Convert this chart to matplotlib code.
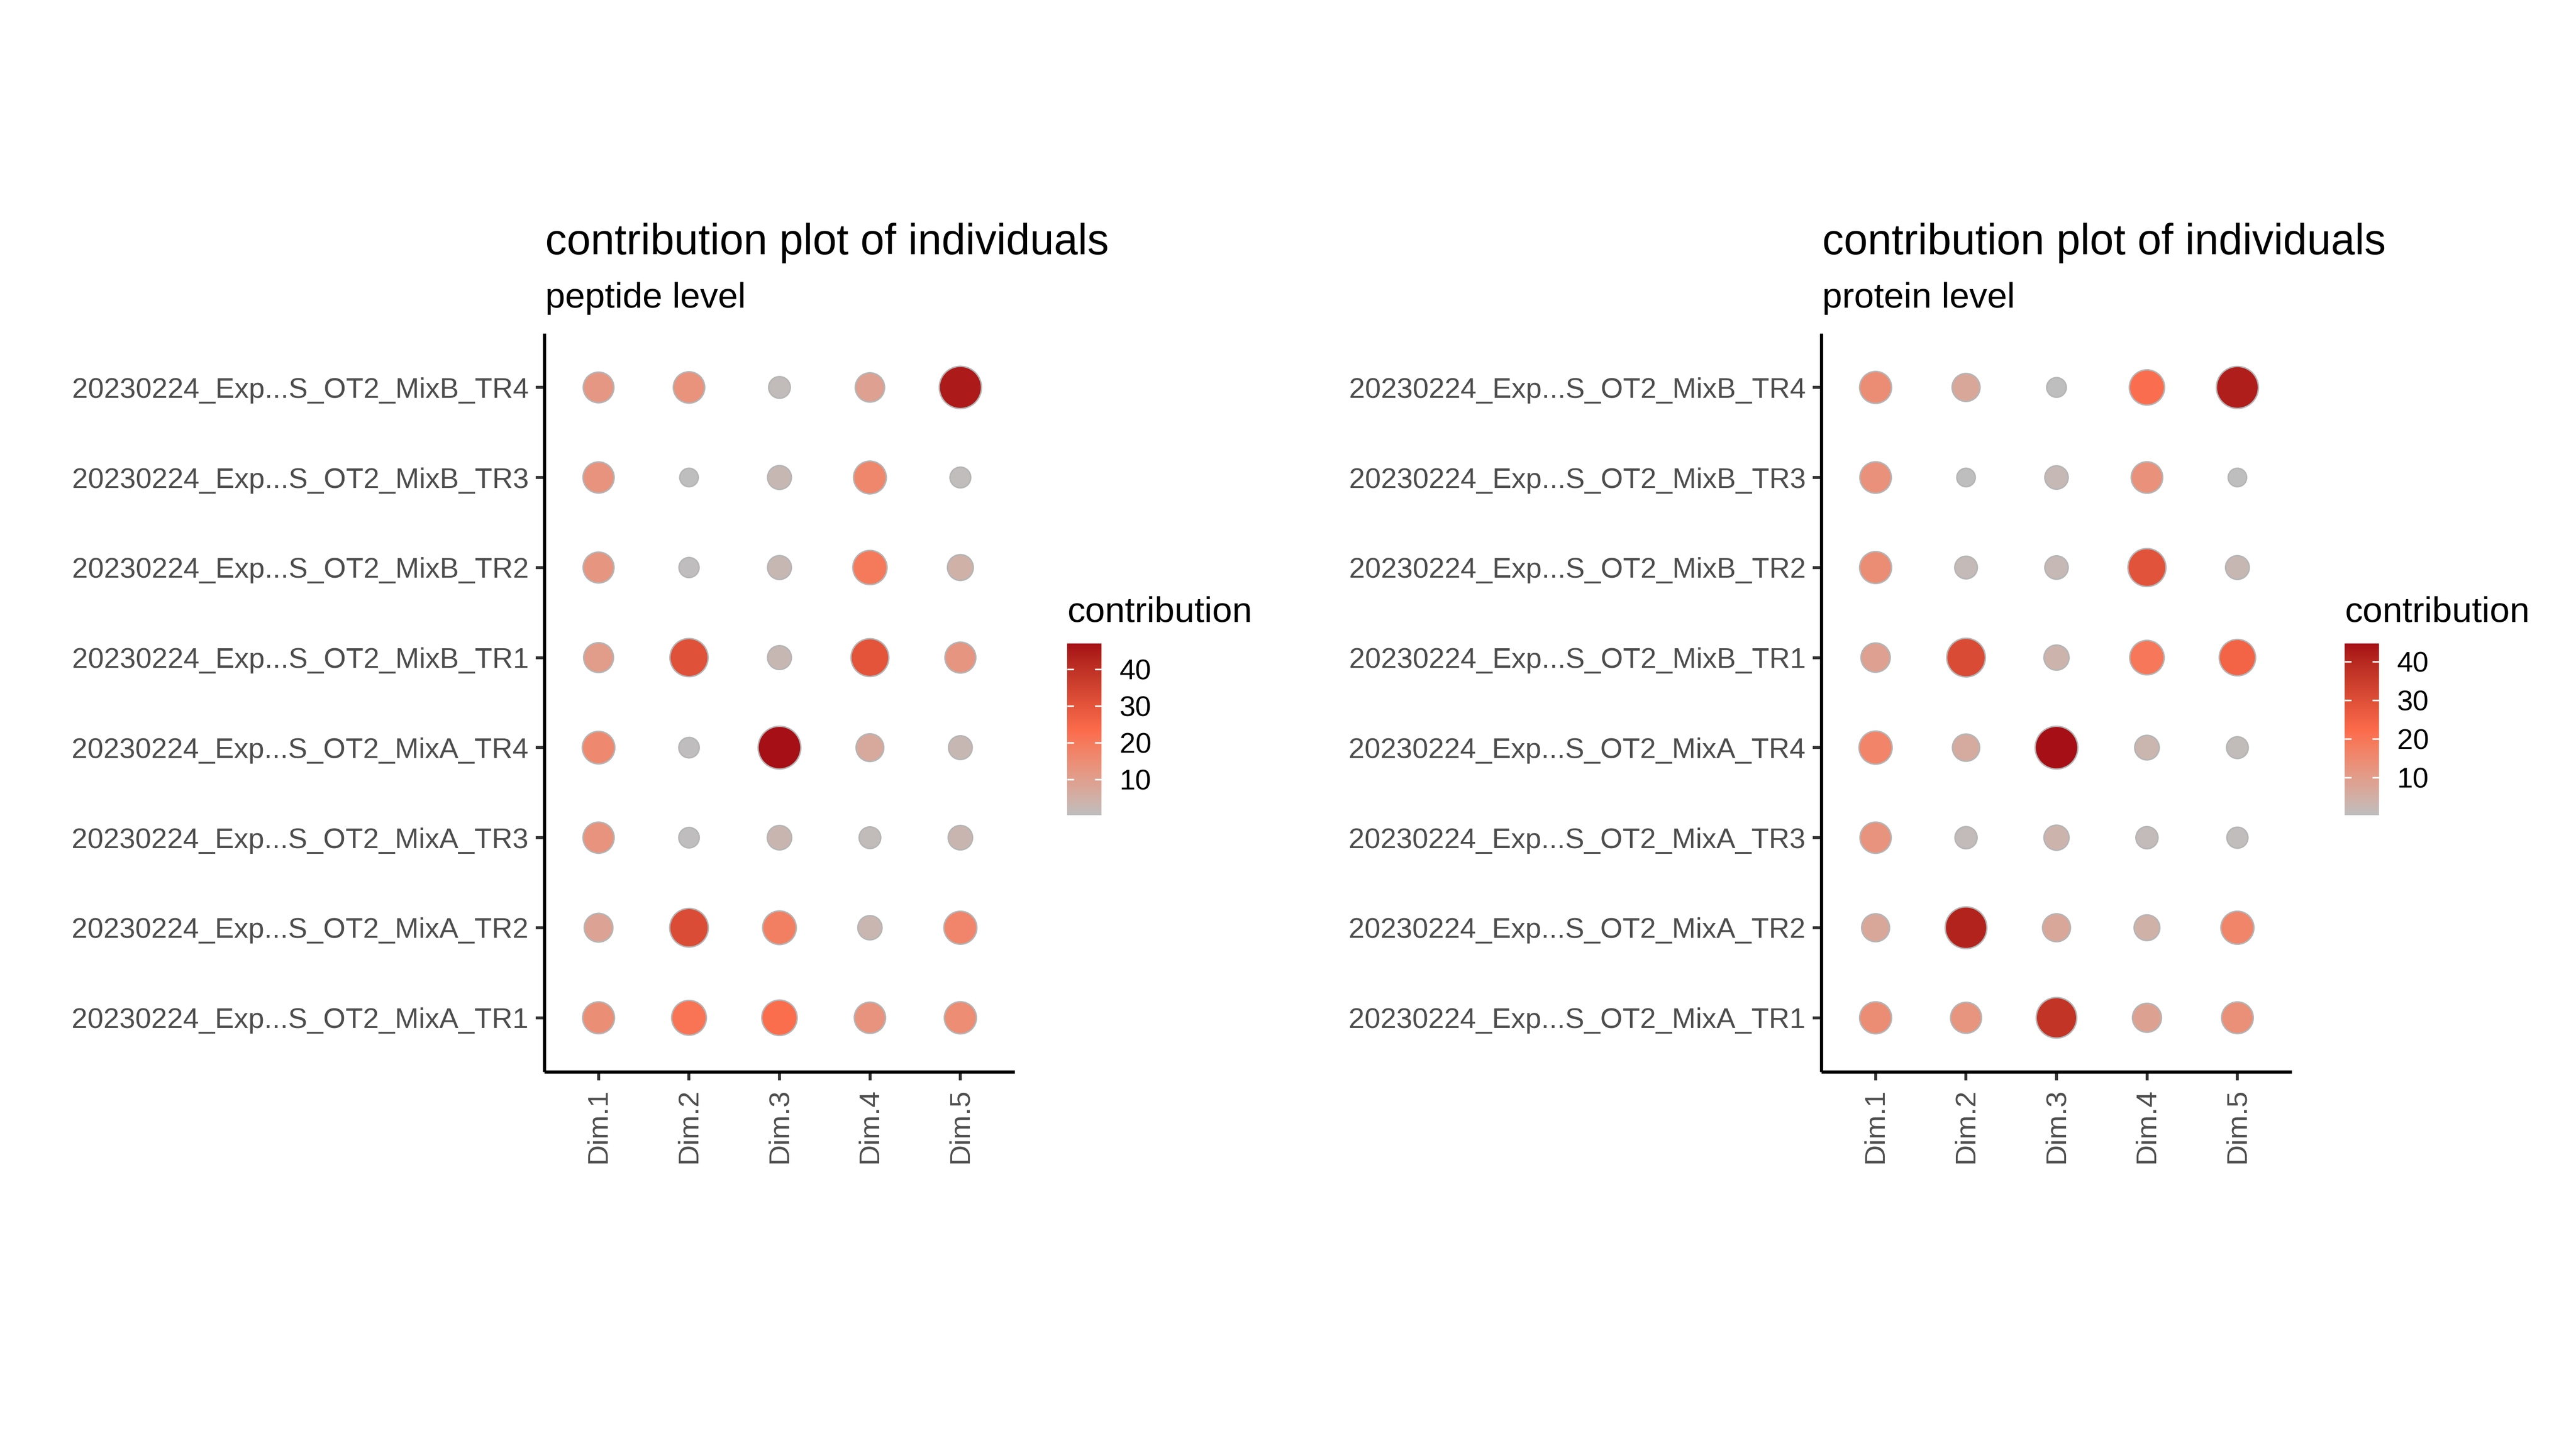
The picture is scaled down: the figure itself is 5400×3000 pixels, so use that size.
import numpy as np
import matplotlib
matplotlib.use("Agg")
import matplotlib.pyplot as plt
from matplotlib.colors import ListedColormap, Normalize, to_rgb

plt.rcParams['font.family'] = ['Liberation Sans', 'DejaVu Sans']

# ---------------- data ----------------
individuals = [
    "20230224_Exp...S_OT2_MixA_TR1",
    "20230224_Exp...S_OT2_MixA_TR2",
    "20230224_Exp...S_OT2_MixA_TR3",
    "20230224_Exp...S_OT2_MixA_TR4",
    "20230224_Exp...S_OT2_MixB_TR1",
    "20230224_Exp...S_OT2_MixB_TR2",
    "20230224_Exp...S_OT2_MixB_TR3",
    "20230224_Exp...S_OT2_MixB_TR4",
]
dims = ["Dim.1", "Dim.2", "Dim.3", "Dim.4", "Dim.5"]

# contributions (%), rows follow `individuals`, columns follow `dims`
peptide_dim1 = [14.5, 8.5, 13.0, 16.0, 10.5, 12.5, 13.0, 12.0]
peptide_dim2 = [21.4, 32.5, 0.5, 0.5, 31.0, 0.4, 0.2, 13.5]
peptide_dim3 = [23.0, 18.5, 3.0, 47.0, 2.5, 2.5, 2.5, 1.0]
peptide_dim4 = [13.2, 2.8, 1.0, 7.0, 30.0, 20.0, 16.5, 9.5]
peptide_dim5 = [15.0, 17.0, 3.0, 2.4, 12.5, 4.5, 0.6, 45.0]

protein_dim1 = [14.0, 7.0, 12.5, 16.5, 9.0, 14.0, 13.0, 14.0]
protein_dim2 = [12.1, 41.0, 1.2, 6.0, 31.0, 1.5, 0.2, 7.0]
protein_dim3 = [37.0, 7.0, 3.5, 44.7, 3.5, 2.0, 2.0, 0.3]
protein_dim4 = [8.6, 4.2, 1.2, 3.0, 19.5, 29.0, 13.0, 21.5]
protein_dim5 = [13.5, 16.3, 0.7, 1.0, 24.5, 2.3, 0.2, 42.0]

peptide = np.column_stack([peptide_dim1, peptide_dim2, peptide_dim3, peptide_dim4, peptide_dim5])
protein = np.column_stack([protein_dim1, protein_dim2, protein_dim3, protein_dim4, protein_dim5])

titles = ["contribution plot of individuals", "contribution plot of individuals"]
subtitles = ["peptide level", "protein level"]
legend_title = "contribution"
cbar_ticks = [10, 20, 30, 40]
grad_colors = ["#BEBEBE", "#FB6A4A", "#A50F15"]

# ---------------- Lab-interpolated colormap (like ggplot) ----------------
def _srgb_to_lab(c):
    c = np.asarray(c, float)
    lin = np.where(c <= 0.04045, c / 12.92, ((c + 0.055) / 1.055) ** 2.4)
    M = np.array([[0.4124, 0.3576, 0.1805],
                  [0.2126, 0.7152, 0.0722],
                  [0.0193, 0.1192, 0.9505]])
    xyz = M @ lin / np.array([0.95047, 1.0, 1.08883])
    f = np.where(xyz > 0.008856, np.cbrt(xyz), 7.787 * xyz + 16 / 116)
    return np.array([116 * f[1] - 16, 500 * (f[0] - f[1]), 200 * (f[1] - f[2])])

def _lab_to_srgb(lab):
    L, a, b = lab
    fy = (L + 16) / 116
    fx = fy + a / 500
    fz = fy - b / 200
    f = np.array([fx, fy, fz])
    xyz = np.where(f ** 3 > 0.008856, f ** 3, (f - 16 / 116) / 7.787)
    xyz = xyz * np.array([0.95047, 1.0, 1.08883])
    Minv = np.array([[3.2406, -1.5372, -0.4986],
                     [-0.9689, 1.8758, 0.0415],
                     [0.0557, -0.2040, 1.0570]])
    lin = Minv @ xyz
    lin = np.clip(lin, 0, 1)
    c = np.where(lin <= 0.0031308, 12.92 * lin, 1.055 * lin ** (1 / 2.4) - 0.055)
    return np.clip(c, 0, 1)

labs = [_srgb_to_lab(to_rgb(c)) for c in grad_colors]
cols = []
for t in np.linspace(0, 1, 256):
    if t <= 0.5:
        u = t / 0.5
        lab = labs[0] * (1 - u) + labs[1] * u
    else:
        u = (t - 0.5) / 0.5
        lab = labs[1] * (1 - u) + labs[2] * u
    cols.append(_lab_to_srgb(lab))
cmap = ListedColormap(cols)

# ---------------- figure ----------------
fig = plt.figure(figsize=(18, 10), dpi=300)

W, H = 5400.0, 3000.0
ax_w = 986 / W
ax_h = (2247 - 699) / H
ax_y0 = 1 - 2247 / H
panels = [
    dict(data=peptide, ax_x=1141 / W, cb_x=2237 / W, lt_x=2238 / W),
    dict(data=protein, ax_x=3818 / W, cb_x=4915 / W, lt_x=4916 / W),
]

edge_lw = 0.7
d_min, d_max = 9.3, 21.5   # marker diameters (pt)

for i, p in enumerate(panels):
    data = p["data"]
    ax = fig.add_axes([p["ax_x"], ax_y0, ax_w, ax_h])
    vmin, vmax = data.min(), data.max()
    norm = Normalize(vmin=vmin, vmax=vmax)

    xs, ys, vs = [], [], []
    for r in range(len(individuals)):
        for c in range(len(dims)):
            xs.append(c + 1)
            ys.append(r + 1)
            vs.append(data[r, c])
    xs, ys, vs = np.array(xs), np.array(ys), np.array(vs)
    tt = (vs - vmin) / (vmax - vmin)
    sizes = (d_min + (d_max - d_min) * np.sqrt(tt)) ** 2

    sc = ax.scatter(xs, ys, s=sizes, c=vs, cmap=cmap, norm=norm,
                    edgecolors="#B5B5B5", linewidths=edge_lw, zorder=3)

    ax.set_xlim(0.4, len(dims) + 0.6)
    ax.set_ylim(0.4, len(individuals) + 0.6)
    ax.set_xticks(range(1, len(dims) + 1))
    ax.set_xticklabels(dims, rotation=90, ha="center", va="top")
    ax.set_yticks(range(1, len(individuals) + 1))
    ax.set_yticklabels(individuals)
    for s in ["top", "right"]:
        ax.spines[s].set_visible(False)
    for s in ["left", "bottom"]:
        ax.spines[s].set_linewidth(1.6)
        ax.spines[s].set_color("black")
        ax.spines[s].set_capstyle("butt")
    ax.tick_params(axis="both", length=4.4, width=1.5, color="#333333",
                   labelsize=14.4, labelcolor="#4D4D4D", pad=3.5)
    ax.tick_params(axis="x", pad=4.0)
    ax.set_facecolor("white")

    # titles
    fig.text(p["ax_x"] + 2 / W, 1 - 533 / H, titles[i], fontsize=21.6,
             color="black", ha="left", va="baseline")
    fig.text(p["ax_x"] + 2 / W, 1 - 645 / H, subtitles[i], fontsize=18,
             color="black", ha="left", va="baseline")

    # colourbar legend
    cax = fig.add_axes([p["cb_x"], 1 - 1709 / H, 72 / W, 360 / H])
    cb = fig.colorbar(sc, cax=cax, ticks=cbar_ticks)
    cb.outline.set_visible(False)
    cax.yaxis.set_ticks_position("both")
    cax.tick_params(axis="y", direction="in", length=3.4, width=0.8,
                    color="white", labelcolor="black", labelsize=14.4,
                    left=True, right=True, labelleft=False, labelright=True,
                    pad=9)
    fig.text(p["lt_x"], 1 - 1304 / H, legend_title, fontsize=18,
             color="black", ha="left", va="baseline")

fig.savefig("out.png", dpi=300, facecolor="white")
